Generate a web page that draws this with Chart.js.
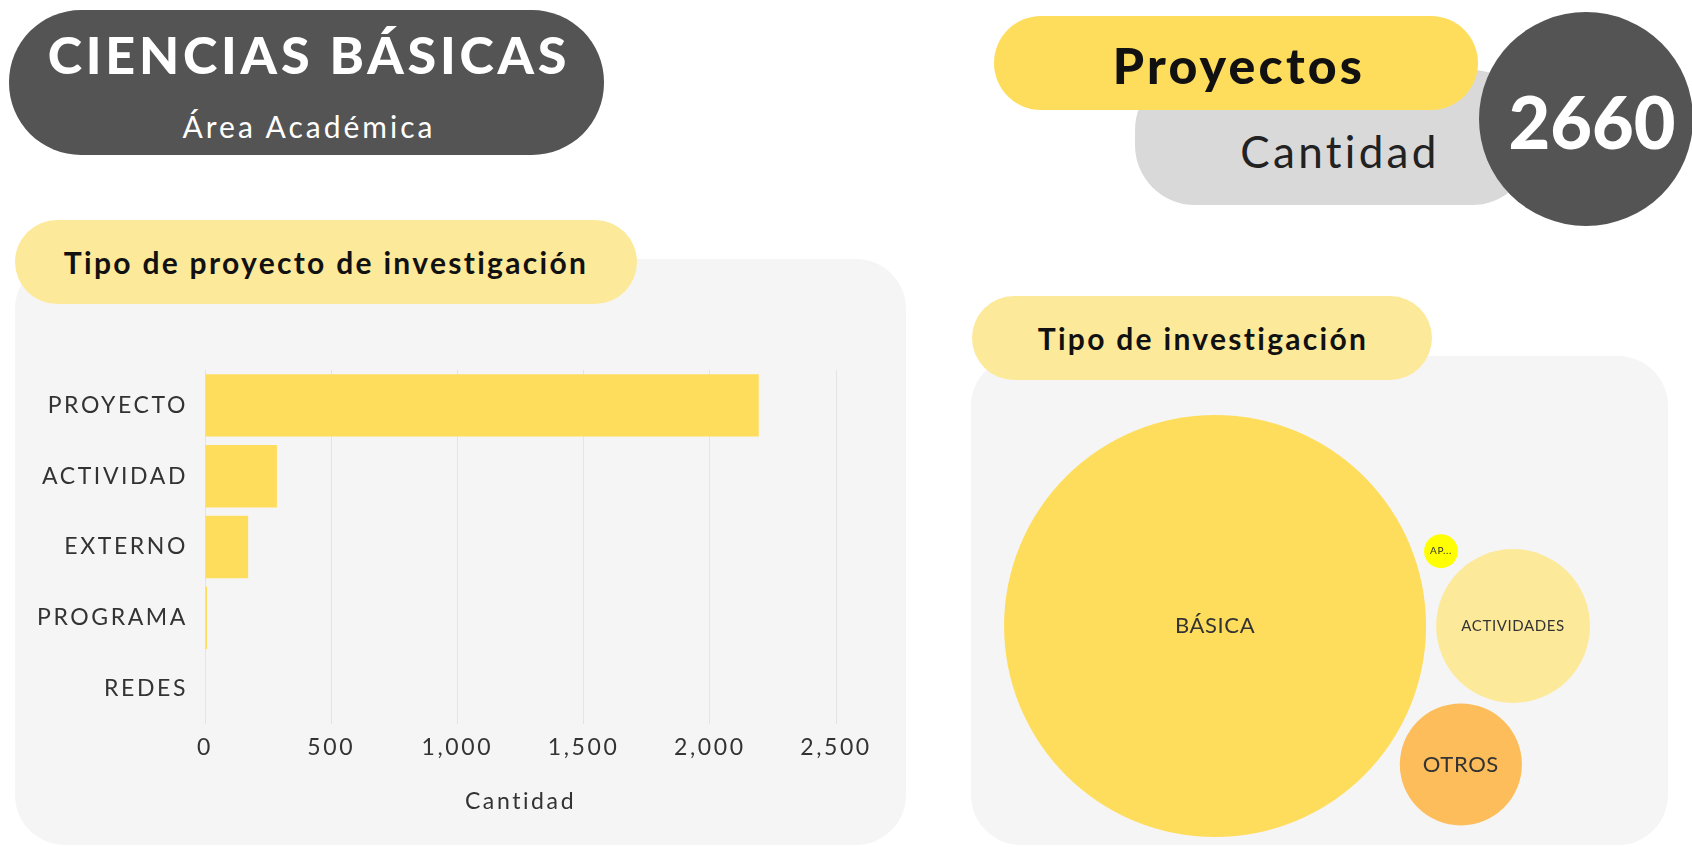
<!DOCTYPE html>
<html>
<head>
<meta charset="utf-8">
<script src="https://cdn.jsdelivr.net/npm/chart.js@4/dist/chart.umd.min.js"></script>
<style>
  body { margin: 0; background: #fff; font-family: Lato, "Noto Sans", sans-serif; }
  #page { position: relative; width: 1692px; height: 847px; overflow: hidden; }
  .box { position: absolute; }
  .txt { position: absolute; transform: translate(-50%, -50%); white-space: nowrap; line-height: 1; }
  canvas { display: block; }
</style>
</head>
<body>
<div id="page">
  <!-- header, left -->
  <div class="box" style="left:9px;top:10px;width:595px;height:145px;border-radius:72px;background:#545454"></div>
  <div class="txt" style="left:309px;top:54px;font-size:52px;font-weight:900;letter-spacing:3.8px;color:#fff">CIENCIAS BÁSICAS</div>
  <div class="txt" style="left:309px;top:126px;font-size:30px;letter-spacing:3px;color:#fff">Área Académica</div>

  <!-- header, right -->
  <div class="box" style="left:1135px;top:70px;width:397px;height:135px;border-radius:60px;background:#d9d9d9"></div>
  <div class="box" style="left:994px;top:16px;width:484px;height:94px;border-radius:47px;background:#ffdd5c"></div>
  <div class="box" style="left:1479px;top:12px;width:214px;height:214px;border-radius:50%;background:#545454"></div>
  <div class="txt" style="left:1239px;top:65px;font-size:50px;font-weight:900;letter-spacing:3.2px;color:#111">Proyectos</div>
  <div class="txt" style="left:1340px;top:151px;font-size:44px;letter-spacing:3.3px;color:#222">Cantidad</div>
  <div class="txt" id="total" style="left:1592px;top:121px;font-size:72px;font-weight:900;color:#fff"></div>

  <!-- cards -->
  <div class="box" style="left:15px;top:259px;width:891px;height:586px;border-radius:50px;background:#f5f5f5"></div>
  <div class="box" style="left:15px;top:220px;width:622px;height:84px;border-radius:42px;background:#fde99a"></div>
  <div class="txt" style="left:326px;top:262px;font-size:30px;font-weight:700;letter-spacing:2.3px;color:#111">Tipo de proyecto de investigación</div>

  <div class="box" style="left:971px;top:356px;width:697px;height:489px;border-radius:50px;background:#f5f5f5"></div>
  <div class="box" style="left:972px;top:296px;width:460px;height:84px;border-radius:42px;background:#fde99a"></div>
  <div class="txt" style="left:1203px;top:338px;font-size:30px;font-weight:700;letter-spacing:2.3px;color:#111">Tipo de investigación</div>

  <div class="box" style="left:15px;top:330px"><canvas id="barChart" width="891" height="510"></canvas></div>
  <div class="box" style="left:1004px;top:415px"><canvas id="bubbleChart" width="586" height="422"></canvas></div>
</div>

<script>
/////////////////////////////// data //////////////////////////////////

const totalProyectos = 2660;

const barCategories = ['PROYECTO', 'ACTIVIDAD', 'EXTERNO', 'PROGRAMA', 'REDES'];
const barValues = [2194, 285, 171, 8, 2];
const xTickValues = [0, 500, 1000, 1500, 2000, 2500];

const bubbleCategories = ['BÁSICA', 'ACTIVIDADES', 'OTROS', 'APLICADA'];
const bubbleValues = [2175, 289, 182, 14];
const bubbleColors = ['#ffdd5c', '#fde99a', '#fdbd5b', '#ffff00'];

const FONT = 'Lato, "Noto Sans", sans-serif';

document.getElementById('total').textContent = totalProyectos;

// wider text spacing on the canvas, to get closer to the original font
const spacing = px => ({
    id: 'spacing',
    beforeUpdate(chart) { chart.ctx.letterSpacing = px; },
    beforeDraw(chart) { chart.ctx.letterSpacing = px; }
});

/////////////////////////////// BarChart //////////////////////////////////

var barCtx = document.getElementById('barChart').getContext('2d');

new Chart(barCtx, {
    type: 'bar',
    data: {
        labels: barCategories,
        datasets: [{
            label: 'Cantidad',
            data: barValues,
            backgroundColor: '#ffdd5c',
            borderWidth: 0,
            barPercentage: 0.98,
            categoryPercentage: 0.9
        }]
    },
    options: {
        animation: false,
        responsive: false,
        indexAxis: 'y',
        locale: 'en-US',
        layout: { padding: { top: 40, right: 70, left: 0, bottom: 0 } },
        scales: {
            x: {
                min: xTickValues[0],
                max: xTickValues[xTickValues.length - 1],
                afterBuildTicks: axis => { axis.ticks = xTickValues.map(v => ({ value: v })); },
                afterFit: axis => { axis.height = 116; },
                grid: { color: '#e4e4e4', drawTicks: false },
                border: { display: false },
                ticks: { padding: 10, color: '#333', font: { family: FONT, size: 23 } },
                title: {
                    display: true,
                    text: 'Cantidad',
                    color: '#333',
                    padding: { top: 4, bottom: 25 },
                    font: { family: FONT, size: 23 }
                }
            },
            y: {
                afterFit: axis => { axis.width = 190; },
                grid: { display: false },
                border: { display: false },
                ticks: { padding: 9, color: '#333', font: { family: FONT, size: 23 } }
            }
        },
        plugins: {
            legend: { display: false },
            tooltip: { enabled: false }
        }
    },
    plugins: [spacing('2.6px')]
});

/////////////////////////////// BubbleChart //////////////////////////////////

// simple sibling packing: first two side by side, the next ones tangent to both
function placeTangent(a, b, r, pad, side) {
    var dA = a.r + r + pad, dB = b.r + r + pad;
    var dx = b.x - a.x, dy = b.y - a.y;
    var d = Math.sqrt(dx * dx + dy * dy);
    var t = (dA * dA - dB * dB + d * d) / (2 * d);
    var h = Math.sqrt(Math.max(0, dA * dA - t * t));
    var ux = dx / d, uy = dy / d;
    return { x: a.x + ux * t - uy * h * side, y: a.y + uy * t + ux * h * side, r: r };
}

function packBubbles(values, width, height, pad) {
    var k = 1, circles, box;
    for (var it = 0; it < 8; it++) {
        var rs = values.map(v => Math.sqrt(v) * k);
        circles = [];
        circles[0] = { x: 0, y: 0, r: rs[0] };
        circles[1] = { x: rs[0] + pad + rs[1], y: 0, r: rs[1] };
        for (var i = 2; i < rs.length; i++) {
            circles[i] = placeTangent(circles[0], circles[1], rs[i], pad, i % 2 === 0 ? 1 : -1);
        }
        box = {
            minX: Math.min(...circles.map(c => c.x - c.r)),
            maxX: Math.max(...circles.map(c => c.x + c.r)),
            minY: Math.min(...circles.map(c => c.y - c.r)),
            maxY: Math.max(...circles.map(c => c.y + c.r))
        };
        k *= Math.min(width / (box.maxX - box.minX), height / (box.maxY - box.minY));
    }
    return { circles: circles, box: box };
}

var bubbleCanvas = document.getElementById('bubbleChart');
var pack = packBubbles(bubbleValues, bubbleCanvas.width, bubbleCanvas.height, 10);

function shortLabel(ctx, text, maxWidth) {
    if (ctx.measureText(text).width <= maxWidth) return text;
    var s = text;
    while (s.length > 1 && ctx.measureText(s + '...').width > maxWidth) s = s.slice(0, -1);
    return s + '...';
}

const bubbleLabels = {
    id: 'bubbleLabels',
    afterDatasetsDraw(chart) {
        var ctx = chart.ctx;
        var meta = chart.getDatasetMeta(0);
        ctx.save();
        ctx.letterSpacing = '0.6px';
        ctx.textAlign = 'center';
        ctx.textBaseline = 'middle';
        ctx.fillStyle = '#333';
        meta.data.forEach((el, i) => {
            var r = el.options.radius;
            var maxW = r * 1.4;
            var size = 22;
            ctx.font = size + 'px ' + FONT;
            var w = ctx.measureText(bubbleCategories[i]).width;
            if (w > maxW) size = Math.max(10, Math.floor(size * maxW / w));
            ctx.font = size + 'px ' + FONT;
            ctx.fillText(shortLabel(ctx, bubbleCategories[i], maxW), el.x, el.y);
        });
        ctx.restore();
    }
};

new Chart(bubbleCanvas.getContext('2d'), {
    type: 'bubble',
    data: {
        datasets: [{
            label: 'Tipo de investigación',
            data: pack.circles.map(c => ({ x: c.x, y: c.y, r: c.r })),
            backgroundColor: bubbleColors,
            borderWidth: 0,
            clip: false
        }]
    },
    options: {
        animation: false,
        responsive: false,
        layout: { padding: 0, autoPadding: false },
        scales: {
            x: { display: false, min: pack.box.minX, max: pack.box.maxX },
            y: { display: false, reverse: true, min: pack.box.minY, max: pack.box.maxY }
        },
        plugins: {
            legend: { display: false },
            tooltip: { enabled: false }
        }
    },
    plugins: [bubbleLabels]
});
</script>
</body>
</html>
